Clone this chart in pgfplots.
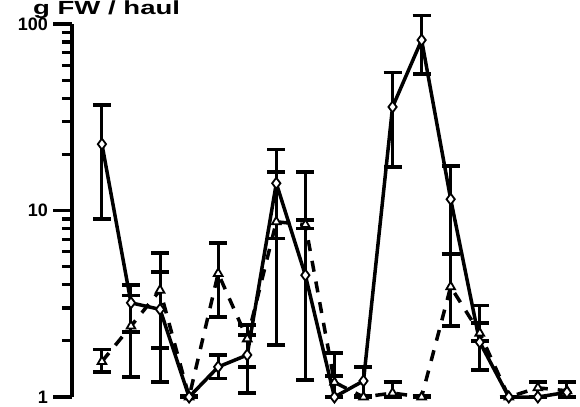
\documentclass[border=0pt]{standalone}
\usepackage{pgfplots}
\pgfplotsset{compat=1.18}
\usepackage{fontspec}
\setmainfont{Liberation Sans}
\newfontfamily\widefont[FakeStretch=1.45]{Liberation Sans}
\begin{document}
\begin{tikzpicture}
\begin{axis}[
  name=ax,
  scale only axis,
  width=508pt, height=373pt,
  ymode=log,
  xmin=-1.03, xmax=16.45,
  ymin=1, ymax=100,
  clip=false,
  axis x line=none,
  axis y line*=left,
  axis line style={-, line width=3.8pt},
  ytick={1,10,100},
  yticklabels={1,10,100},
  yticklabel style={font=\fontsize{18}{18}\selectfont\bfseries, inner sep=0pt, xshift=-5pt},
  tick align=outside,
  major tick length=19pt,
  minor tick length=10pt,
  every tick/.style={line width=3.2pt, black},
  error bars/y dir=both,
  error bars/y explicit,
  error bars/error bar style={line width=3pt, solid},
  error bars/error mark options={rotate=90, mark size=9pt, line width=3.5pt, solid},
]
\addplot[black, line width=3.5pt, dash pattern=on 11pt off 10pt,
  mark=triangle*, mark size=5pt, mark options={solid, fill=white, line width=1.8pt}]
coordinates {
(0,1.55) += (0,0.25) -= (0,0.19)
(1,2.4) += (0,1.1) -= (0,0.17)
(2,3.74) += (0,2.16) -= (0,2.54)
(3,1.0) += (0,0) -= (0,0)
(4,4.6) += (0,2.1) -= (0,1.92)
(5,2.05) += (0,0.1) -= (0,0.6)
(6,8.7) += (0,7.4) -= (0,1.6)
(7,8.4) += (0,0.5) -= (0,0.4)
(8,1.2) += (0,0.1) -= (0,0.2)
(9,1.0) += (0,0) -= (0,0)
(10,1.05) += (0,0.15) -= (0,0.05)
(11,1.0) += (0,0.02) -= (0,0)
(12,3.9) += (0,1.94) -= (0,1.5)
(13,2.2) += (0,0.3) -= (0,0.2)
(14,1.0) += (0,0) -= (0,0)
(15,1.12) += (0,0.08) -= (0,0.12)
(16,1.08) += (0,0.12) -= (0,0.08)
};
\addplot[black, line width=3.5pt, solid,
  mark=diamond*, mark size=5.5pt, mark options={solid, fill=white, line width=1.8pt}]
coordinates {
(0,22.7) += (0,14.1) -= (0,13.7)
(1,3.2) += (0,0.78) -= (0,1.92)
(2,2.95) += (0,1.73) -= (0,1.12)
(3,1.0) += (0,0.02) -= (0,0)
(4,1.45) += (0,0.23) -= (0,0.19)
(5,1.68) += (0,0.75) -= (0,0.63)
(6,14.0) += (0,7.3) -= (0,12.1)
(7,4.5) += (0,11.6) -= (0,3.27)
(8,1.0) += (0,0.72) -= (0,0)
(9,1.22) += (0,0.23) -= (0,0.2)
(10,35.9) += (0,19.1) -= (0,18.8)
(11,82) += (0,29) -= (0,28)
(12,11.5) += (0,5.8) -= (0,5.66)
(13,1.97) += (0,1.13) -= (0,0.57)
(14,1.0) += (0,0) -= (0,0)
(15,1.0) += (0,0) -= (0,0)
(16,1.06) += (0,0.14) -= (0,0.06)
};
\end{axis}
\node[anchor=base west, inner sep=0pt, font=\widefont\fontsize{19}{19}\selectfont\bfseries]
  at ([shift={(-39pt,9pt)}]ax.north west) {g FW / haul};
\pgfresetboundingbox
\path ([shift={(-72pt,-9pt)}]ax.south west) rectangle ([shift={(0pt,24pt)}]ax.north east);
\end{tikzpicture}
\end{document}
